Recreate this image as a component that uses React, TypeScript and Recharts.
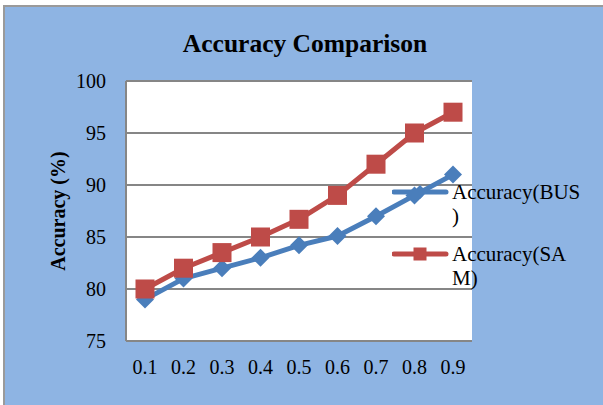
import React from 'react';
import { LineChart, Line, XAxis, YAxis, CartesianGrid } from 'recharts';

const thresholds = ['0.1', '0.2', '0.3', '0.4', '0.5', '0.6', '0.7', '0.8', '0.9'];
const busAccuracy = [79, 81, 82, 83, 84.2, 85.1, 87, 89, 91];
const samAccuracy = [80, 82, 83.5, 85, 86.7, 89, 92, 95, 97];
const yTicks = [75, 80, 85, 90, 95, 100];
const seriesNames = ['Accuracy(BUS)', 'Accuracy(SAM)'];
const legendBreakAt = [12, 11];
const chartTitle = 'Accuracy Comparison';
const yTitle = 'Accuracy (%)';

const data = thresholds.map((t, i) => ({ t, bus: busAccuracy[i], sam: samAccuracy[i] }));

const BLUE = '#4A7EBB';
const RED = '#BE4B48';
const GRID = '#868686';
const BG = '#8EB4E3';
const FONT = 'Liberation Serif, Times New Roman, serif';

const Diamond = (props: any) => {
  const { cx, cy } = props;
  if (cx == null || cy == null) return null;
  const r = 9;
  return <path d={`M${cx},${cy - r}L${cx + r},${cy}L${cx},${cy + r}L${cx - r},${cy}Z`} fill={BLUE} stroke="none" />;
};

const Square = (props: any) => {
  const { cx, cy } = props;
  if (cx == null || cy == null) return null;
  const s = 19;
  return <rect x={cx - s / 2} y={cy - s / 2} width={s} height={s} fill={RED} stroke="none" />;
};

const YLabel = (props: any) => {
  const { viewBox } = props;
  const cx = 58;
  const cy = viewBox.y + viewBox.height / 2;
  return (
    <text x={cx} y={cy} transform={`rotate(-90 ${cx} ${cy})`} textAnchor="middle" dominantBaseline="central"
      fontFamily={FONT} fontWeight="bold" fontSize={20} fill="#000">
      {yTitle}
    </text>
  );
};

const LegendBox = () => {
  const items = [
    { name: seriesNames[0], color: BLUE, kind: 'diamond', br: legendBreakAt[0] },
    { name: seriesNames[1], color: RED, kind: 'square', br: legendBreakAt[1] },
  ];
  return (
    <div style={{ position: 'absolute', left: 392, top: 180, width: 210, height: 120, fontFamily: FONT, fontSize: 21, lineHeight: '24px', color: '#000' }}>
      {items.map((it, i) => (
        <div key={it.name} style={{ position: 'absolute', top: i * 62, left: 0, display: 'flex', alignItems: 'flex-start' }}>
          <svg width={60} height={24} style={{ display: 'block' }}>
            <line x1={2} x2={54} y1={12} y2={12} stroke={it.color} strokeWidth={5} strokeLinecap="round" />
            {it.kind === 'diamond' ? (
              <path d="M28,5L35,12L28,19L21,12Z" fill={it.color} />
            ) : (
              <rect x={21.5} y={5.5} width={13} height={13} fill={it.color} />
            )}
          </svg>
          <div style={{ whiteSpace: 'nowrap' }}>
            {it.name.slice(0, it.br)}
            <br />
            {it.name.slice(it.br)}
          </div>
        </div>
      ))}
    </div>
  );
};

export default function App() {
  return (
    <div style={{ position: 'relative', width: 603, height: 405, background: '#fff', overflow: 'hidden' }}>
      <style>{`body{margin:0}`}</style>
      <div style={{ position: 'absolute', left: 3, top: 5, width: 620, height: 420, background: BG, borderLeft: '2px solid #9a9a9a', borderTop: '2px solid #9a9a9a' }} />
      <div style={{ position: 'absolute', left: 0, top: 0 }}>
        <LineChart width={603} height={405} data={data} margin={{ top: 81, right: 131, bottom: 0, left: 20 }}>
          <CartesianGrid vertical={false} stroke={GRID} strokeWidth={2} fill="#fff" />
          <XAxis dataKey="t" height={64} padding={{ left: 19, right: 19 }} tickLine={false} tickSize={0} tickMargin={19}
            axisLine={{ stroke: GRID, strokeWidth: 2 }} tick={{ fontFamily: FONT, fontSize: 20, fill: '#000' }} interval={0} />
          <YAxis domain={[75, 100]} ticks={yTicks} width={106} tickLine={false} tickSize={0} tickMargin={20}
            axisLine={{ stroke: GRID, strokeWidth: 2 }} tick={{ fontFamily: FONT, fontSize: 20, fill: '#000' }}
            label={{ value: yTitle, content: YLabel }} />
          <Line type="linear" dataKey="bus" name={seriesNames[0]} stroke={BLUE} strokeWidth={5} strokeLinejoin="round"
            dot={Diamond} activeDot={false} isAnimationActive={false} />
          <Line type="linear" dataKey="sam" name={seriesNames[1]} stroke={RED} strokeWidth={5} strokeLinejoin="round"
            dot={Square} activeDot={false} isAnimationActive={false} />
        </LineChart>
      </div>
      <LegendBox />
      <svg width={603} height={405} style={{ position: 'absolute', left: 0, top: 0, pointerEvents: 'none' }}>
        <text x={305} y={52} textAnchor="middle" fontFamily={FONT} fontWeight="bold" fontSize={25.5} fill="#000">{chartTitle}</text>
      </svg>
    </div>
  );
}
